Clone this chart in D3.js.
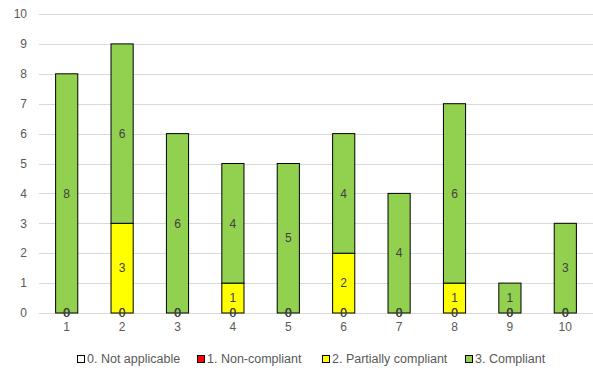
<!DOCTYPE html>
<html>
<head>
<meta charset="utf-8">
<script src="https://cdn.jsdelivr.net/npm/d3@7"></script>
<style>
  body { margin: 0; background: #fff; }
  text { font-family: "Liberation Sans", Arial, sans-serif; }
</style>
</head>
<body>
<div id="chart"></div>
<script>
// chart data
var categories = ["1", "2", "3", "4", "5", "6", "7", "8", "9", "10"];
var seriesNames = ["0. Not applicable", "1. Non-compliant", "2. Partially compliant", "3. Compliant"];
var notApplicable = [0, 0, 0, 0, 0, 0, 0, 0, 0, 0];
var nonCompliant = [0, 0, 0, 0, 0, 0, 0, 0, 0, 0];
var partiallyCompliant = [0, 3, 0, 1, 0, 2, 0, 1, 0, 0];
var compliant = [8, 6, 6, 4, 5, 4, 4, 6, 1, 3];
var yTicks = [0, 1, 2, 3, 4, 5, 6, 7, 8, 9, 10];

var colors = ["#ffffff", "#ff0000", "#ffff00", "#92d050"];

var svgWidth = 593, svgHeight = 370;
var margin = { top: 14, right: 0, bottom: 57, left: 39 };
var chartWidth = svgWidth - margin.left - margin.right;
var chartHeight = svgHeight - margin.top - margin.bottom;

var svg = d3.select("#chart").append("svg")
  .attr("width", svgWidth)
  .attr("height", svgHeight);

var chartGroup = svg.append("g")
  .attr("transform", `translate(${margin.left},${margin.top})`);

// build rows for the stack
var keys = ["na", "nc", "pc", "c"];
var rows = categories.map(function(c, i) {
  return { cat: c, na: notApplicable[i], nc: nonCompliant[i], pc: partiallyCompliant[i], c: compliant[i] };
});
var stacked = d3.stack().keys(keys)(rows);

var x = d3.scaleBand().domain(categories).range([0, chartWidth]).paddingInner(0.6).paddingOuter(0.3);
var y = d3.scaleLinear().domain([0, 10]).range([chartHeight, 0]);

// gridlines
chartGroup.selectAll(".grid")
  .data(yTicks)
  .enter().append("line")
  .attr("x1", 0).attr("x2", chartWidth)
  .attr("y1", d => Math.round(y(d)) + 0.5)
  .attr("y2", d => Math.round(y(d)) + 0.5)
  .attr("stroke", "#d9d9d9")
  .attr("stroke-width", 1);

// y tick labels
chartGroup.selectAll(".ylab")
  .data(yTicks)
  .enter().append("text")
  .attr("x", -12)
  .attr("y", d => y(d))
  .attr("dy", "0.35em")
  .attr("text-anchor", "end")
  .attr("font-size", "12px")
  .attr("fill", "#595959")
  .text(d => d);

// x tick labels
chartGroup.selectAll(".xlab")
  .data(categories)
  .enter().append("text")
  .attr("x", d => x(d) + x.bandwidth() / 2)
  .attr("y", chartHeight + 18)
  .attr("text-anchor", "middle")
  .attr("font-size", "12px")
  .attr("fill", "#595959")
  .text(d => d);

// bars
var layers = chartGroup.selectAll(".layer")
  .data(stacked)
  .enter().append("g")
  .attr("fill", (d, i) => colors[i]);

layers.selectAll("rect")
  .data(d => d.filter(p => p[1] - p[0] > 0))
  .enter().append("rect")
  .attr("x", d => x(d.data.cat))
  .attr("y", d => y(d[1]))
  .attr("width", x.bandwidth())
  .attr("height", d => y(d[0]) - y(d[1]))
  .attr("stroke", "#000")
  .attr("stroke-width", 1);

// data labels on top of all bars (zeros included, like the original)
var labelGroups = chartGroup.selectAll(".labels")
  .data(stacked)
  .enter().append("g");

labelGroups.selectAll("text")
  .data(d => d.map(p => ({ p: p, v: p[1] - p[0] })))
  .enter().append("text")
  .attr("x", d => x(d.p.data.cat) + x.bandwidth() / 2)
  .attr("y", d => y((d.p[0] + d.p[1]) / 2))
  .attr("dy", "0.35em")
  .attr("text-anchor", "middle")
  .attr("font-size", "12px")
  .attr("fill", "#404040")
  .text(d => d.v);

// legend
var legendX = [77, 197, 322, 465];
var legend = svg.selectAll(".legend")
  .data(seriesNames)
  .enter().append("g")
  .attr("transform", (d, i) => `translate(${legendX[i]},${355})`);

legend.append("rect")
  .attr("x", 0.5).attr("y", 0.5)
  .attr("width", 7).attr("height", 7)
  .attr("fill", (d, i) => colors[i])
  .attr("stroke", "#000")
  .attr("stroke-width", 1);

legend.append("text")
  .attr("x", 10)
  .attr("y", 4)
  .attr("dy", "0.35em")
  .attr("font-size", "12.5px")
  .attr("fill", "#595959")
  .text(d => d);
</script>
</body>
</html>
